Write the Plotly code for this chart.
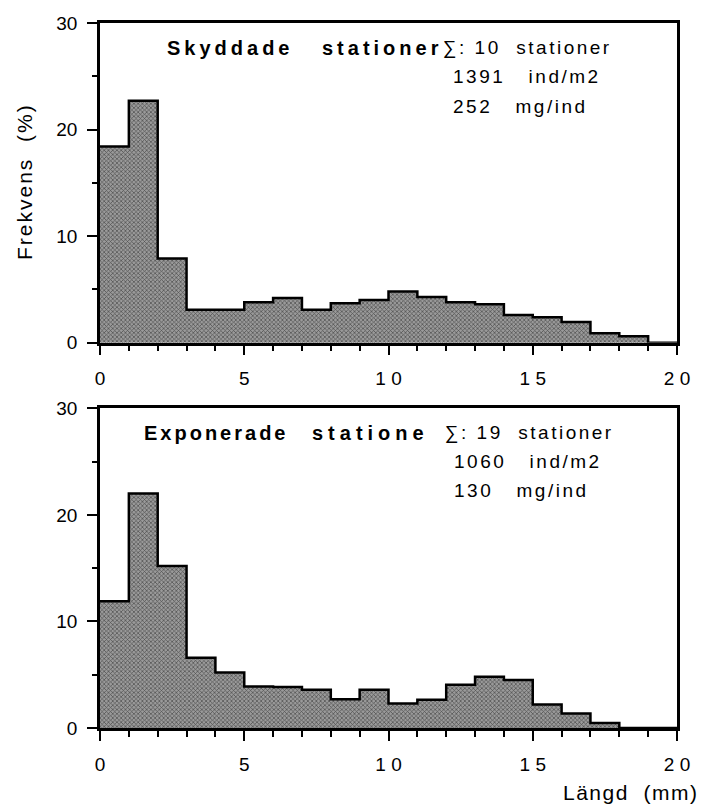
import plotly.graph_objects as go
from plotly.subplots import make_subplots

# Bin edges (mm) and frequencies (%)
bin_left = list(range(0, 20))
skyddade = [18.4, 22.7, 7.9, 3.1, 3.1, 3.8, 4.2, 3.1, 3.7, 4.0,
            4.8, 4.3, 3.8, 3.6, 2.6, 2.4, 1.95, 0.9, 0.6, 0.0]
exponerade = [11.9, 22.0, 15.2, 6.6, 5.2, 3.9, 3.85, 3.6, 2.7, 3.6,
              2.3, 2.65, 4.05, 4.8, 4.5, 2.2, 1.35, 0.47, 0.0, 0.0]

x_tickvals = [0, 5, 10, 15, 20]
x_ticktext = ["0", "5", "1 0", "1 5", "2 0"]
y_tickvals = [0, 10, 20, 30]

FONT = "Liberation Sans"

fig = make_subplots(rows=2, cols=1, vertical_spacing=0.093)

def add_hist(vals, row):
    centers = [b + 0.5 for b in bin_left]
    fig.add_trace(go.Bar(
        x=centers, y=vals, width=1,
        marker=dict(color="#9a9a9a",
                    pattern=dict(shape="x", fgcolor="black", bgcolor="#9a9a9a",
                                 size=3, solidity=0.4),
                    line=dict(width=0)),
        showlegend=False, hoverinfo="skip"), row=row, col=1)
    edges = bin_left + [bin_left[-1] + 1]
    steps = vals + [vals[-1]]
    fig.add_trace(go.Scatter(
        x=edges, y=steps, mode="lines", line_shape="hv",
        line=dict(color="black", width=2.5),
        showlegend=False, hoverinfo="skip"), row=row, col=1)

add_hist(skyddade, 1)
add_hist(exponerade, 2)

axis_common = dict(showline=True, linecolor="black", linewidth=2.5, mirror=True,
                   showgrid=False, zeroline=False, ticks="outside",
                   tickcolor="black", tickwidth=2, ticklen=10,
                   tickfont=dict(family=FONT, size=19, color="black"))

for r in (1, 2):
    fig.update_xaxes(range=[0, 20], tickvals=x_tickvals, ticktext=x_ticktext,
                     minor=dict(dtick=1, ticklen=6, tickwidth=2, tickcolor="black", ticks="outside"),
                     ticklabelstandoff=7,
                     **axis_common, row=r, col=1)
    fig.update_yaxes(range=[0, 30], tickvals=y_tickvals,
                     minor=dict(dtick=5, ticklen=5, tickwidth=2, tickcolor="black", ticks="outside"),
                     ticklabelstandoff=6,
                     **axis_common, row=r, col=1)

def sp(t, ls):
    return f'<span style="letter-spacing:{ls}px">{t}</span>'

tfont = dict(family=FONT, size=19, color="black")
bfont = dict(family=FONT, size=20, color="black", weight="bold")

anns = []
def ann(text, x, y, xref, yref, font, xanchor="left"):
    anns.append(dict(text=text, x=x, y=y, xref=xref, yref=yref, showarrow=False,
                     xanchor=xanchor, yanchor="middle", font=font))

# top panel
ann(sp("<b>Skyddade</b>", 4), 2.27, 27.7, "x", "y", bfont)
ann(sp("<b>stationer</b>", 4), 7.63, 27.7, "x", "y", bfont)
ann(sp("∑: 10  stationer", 2.5), 11.82, 27.7, "x", "y", tfont)
ann(sp("1391   ind/m2", 2.5), 12.15, 24.95, "x", "y", tfont)
ann(sp("252   mg/ind", 2.5), 12.15, 22.2, "x", "y", tfont)
# bottom panel
ann(sp("<b>Exponerade</b>", 3), 1.44, 27.7, "x2", "y2", bfont)
ann(sp("<b>statione</b>", 5), 7.27, 27.7, "x2", "y2", bfont)
ann(sp("∑: 19  stationer", 2.5), 11.88, 27.7, "x2", "y2", tfont)
ann(sp("1060   ind/m2", 2.5), 12.2, 24.97, "x2", "y2", tfont)
ann(sp("130   mg/ind", 2.5), 12.2, 22.26, "x2", "y2", tfont)

# axis titles
anns.append(dict(text=sp("Frekvens  (%)", 2), x=-0.131, y=0.775, xref="paper", yref="paper",
                 showarrow=False, textangle=-90, xanchor="center", yanchor="middle",
                 font=dict(family=FONT, size=21, color="black")))
anns.append(dict(text=sp("Längd  (mm)", 1.5), x=1.042, y=-0.092, xref="paper", yref="paper",
                 showarrow=False, xanchor="right", yanchor="middle",
                 font=dict(family=FONT, size=21, color="black")))

fig.update_layout(
    width=702, height=806,
    margin=dict(l=100, r=20, t=23, b=78),
    paper_bgcolor="white", plot_bgcolor="white",
    bargap=0, annotations=anns,
    font=dict(family=FONT, color="black"),
)

fig.write_html("out.html")
